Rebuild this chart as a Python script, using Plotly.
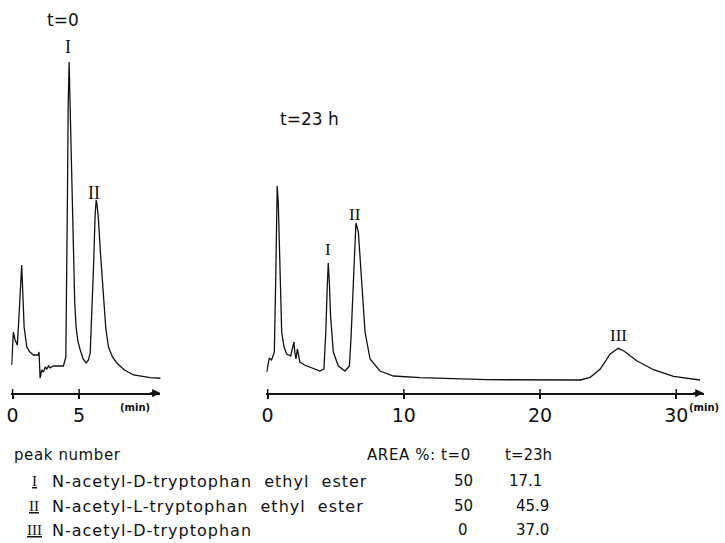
import plotly.graph_objects as go

# ---------------- data ----------------
# left chromatogram, t = 0  (time in min, detector signal in arbitrary units)
t0_time = [-0.06, 0.06, 0.19, 0.36, 0.51, 0.69, 0.87, 1.07, 1.3, 1.57, 1.94, 1.99, 2.07, 2.19,
           2.32, 2.45, 2.57, 2.7, 2.82, 3.07, 3.5, 3.82, 4.0, 4.08, 4.12, 4.18, 4.25, 4.3, 4.37,
           4.45, 4.57, 4.67, 4.77, 4.9, 5.08, 5.3, 5.53, 5.7, 5.83, 5.95, 6.08, 6.2, 6.28, 6.35,
           6.45, 6.6, 6.83, 7.0, 7.2, 7.5, 7.83, 8.4, 9.08, 10.34, 11.22]
t0_signal = [28, 61, 53, 48, 83, 128, 66, 46, 41, 38, 38, 41, 15, 23,
             21, 26, 24, 27, 25, 27, 27, 27, 36, 120, 193, 290, 331, 300, 260,
             190, 126, 90, 66, 52, 43, 34, 30, 33, 40, 75, 126, 178, 193, 188,
             173, 140, 93, 65, 46, 36, 30, 23, 18, 15.3, 14.7]

# right chromatogram, t = 23 h
t23_time = [-0.07, 0.12, 0.29, 0.49, 0.6, 0.7, 0.78, 0.85, 0.95, 1.03, 1.2, 1.4, 1.69, 1.85,
            1.93, 2.0, 2.08, 2.18, 2.37, 2.7, 3.1, 3.5, 3.84, 4.13, 4.27, 4.37, 4.45, 4.53,
            4.62, 4.82, 5.19, 5.68, 6.0, 6.12, 6.24, 6.38, 6.48, 6.66, 6.9, 7.15, 7.52, 8.25,
            9.23, 11.19, 16.09, 22.95, 23.68, 24.42, 25.15, 25.74, 26.13, 27.1, 28.33, 29.8,
            31.74]
t23_signal = [21, 35, 33, 41, 120, 207, 190, 160, 100, 61, 46, 39, 37, 45,
              51, 40, 34, 44, 31, 28, 26, 24, 22, 24, 61, 105, 130, 110,
              77, 41, 27, 22, 27, 55, 94, 150, 170, 161, 111, 61, 34, 22,
              17, 15.3, 13.3, 13, 15.7, 24, 39, 44.7, 42.3, 32.3, 23.3, 16.7,
              13]

left_ticks = [0, 5]
right_ticks = [0, 10, 20, 30]

peak_names = ["I", "II", "III"]
compounds = ["N-acetyl-D-tryptophan\u00a0\u00a0ethyl\u00a0\u00a0ester",
             "N-acetyl-L-tryptophan\u00a0\u00a0ethyl\u00a0\u00a0ester",
             "N-acetyl-D-tryptophan"]
area_t0 = ["50", "50", "0"]
area_t23 = ["17.1", "45.9", "37.0"]

# ---------------- figure ----------------
W, H = 725, 543
INK = "#111111"
FONT = "DejaVu Sans"
SERIF = "Liberation Serif"

fig = go.Figure()
fig.add_trace(go.Scatter(x=t0_time, y=t0_signal, mode="lines",
                         line=dict(color=INK, width=1.3), xaxis="x", yaxis="y",
                         showlegend=False, hoverinfo="skip"))
fig.add_trace(go.Scatter(x=t23_time, y=t23_signal, mode="lines",
                         line=dict(color=INK, width=1.3), xaxis="x2", yaxis="y2",
                         showlegend=False, hoverinfo="skip"))

ydom = [(H - 393) / H, (H - 20) / H]
yrange = [0, 373]
left_range = [-0.1, 11.1]
right_range = [-0.1, 32.0]

common_x = dict(showline=True, linecolor=INK, linewidth=1.5, ticks="outside",
                ticklen=4, tickwidth=1.5, tickcolor=INK, showgrid=False, zeroline=False,
                automargin=False,
                tickfont=dict(family=FONT, size=19, color=INK), fixedrange=True)
common_y = dict(visible=False, range=yrange, domain=ydom, fixedrange=True, automargin=False)

fig.update_layout(
    width=W, height=H,
    margin=dict(l=0, r=0, t=0, b=0, pad=0, autoexpand=False),
    paper_bgcolor="white", plot_bgcolor="white",
    xaxis=dict(common_x, domain=[11.2 / W, 160.4 / W], range=left_range,
               tickvals=left_ticks, ticktext=[str(v) for v in left_ticks], anchor="y"),
    yaxis=dict(common_y, anchor="x"),
    xaxis2=dict(common_x, domain=[266.3 / W, 703.5 / W], range=right_range,
                tickvals=right_ticks, ticktext=[str(v) for v in right_ticks], anchor="y2"),
    yaxis2=dict(common_y, anchor="x2"),
)

shapes = []
annotations = []

# upper halves of the crossing tick marks
for xr, yr, ticks in (("x", "y", left_ticks), ("x2", "y2", right_ticks)):
    for v in ticks:
        shapes.append(dict(type="line", xref=xr, yref=yr, x0=v, x1=v, y0=0, y1=4,
                           line=dict(color=INK, width=1.5)))

# arrow heads at the end of the time axes
for xr, yr, rng in (("x", "y", left_range), ("x2", "y2", right_range)):
    annotations.append(dict(xref=xr, yref=yr, x=rng[1], y=0, ax=-12, ay=0, text="",
                            showarrow=True, arrowhead=2, arrowsize=1.1, arrowwidth=1.5,
                            arrowcolor=INK))

def ptext(px, py, text, size, family=FONT, xanchor="center", spacing=None):
    if spacing is not None:
        text = "<span style='letter-spacing:%spx'>%s</span>" % (spacing, text)
    annotations.append(dict(xref="paper", yref="paper", x=px / W, y=1 - py / H, text=text,
                            showarrow=False, xanchor=xanchor, yanchor="middle",
                            font=dict(family=family, size=size, color=INK)))

# "(min)" unit labels
ptext(135, 407, "<b>(min)</b>", 10)
ptext(704, 407, "<b>(min)</b>", 10)

# panel titles
ptext(63, 20, "t=0", 17)
ptext(309, 119, "t=23 h", 17)

# peak labels
ptext(68, 47, "I", 18, SERIF)
ptext(94, 193, "II", 18, SERIF)
ptext(328, 250, "I", 17, SERIF)
ptext(355, 214, "II", 17, SERIF)
ptext(618, 335, "III", 17, SERIF)

# table
ptext(12, 455, "peak number", 15, xanchor="left", spacing=0.6)
ptext(473, 455, "AREA %:\u00a0t=0", 15, xanchor="right", spacing=0.6)
ptext(503, 455, "t=23h", 15, xanchor="left")
row_y = [481, 506, 530]
for name, comp, a0, a23, yy in zip(peak_names, compounds, area_t0, area_t23, row_y):
    ptext(34, yy, "<u>" + name + "</u>", 15, SERIF)
    ptext(50, yy, comp, 16, xanchor="left", spacing=1.0)
    ptext(463, yy, a0, 15)
    ptext(507 if a23 == "17.1" else 514, yy, a23, 15, xanchor="left")

fig.update_layout(shapes=shapes, annotations=annotations)
fig.write_html("out.html", config={"displayModeBar": False},
               post_script="document.body.style.margin='0';document.body.style.overflow='hidden';")
